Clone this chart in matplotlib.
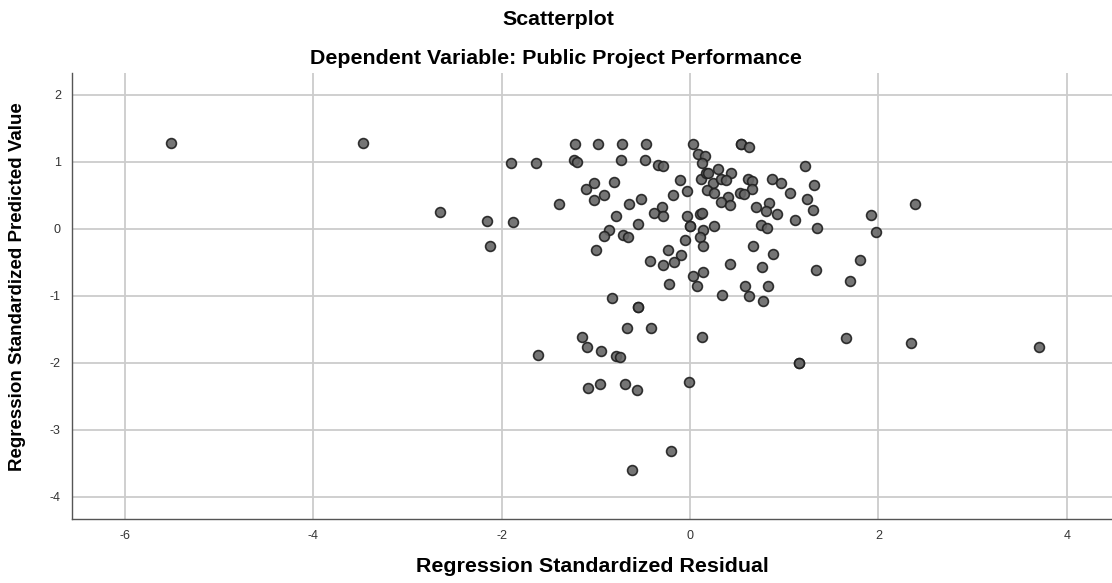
import matplotlib
matplotlib.use("Agg")
import matplotlib.pyplot as plt

# Regression Standardized Residual (x) and Predicted Value (y)
residual = [
    -5.51, -3.47, -2.65, -2.15, -2.12, -1.90, -1.88, -1.63, -1.39, -1.61,
    -1.22, -0.98, -0.72, -0.47, 0.03, -1.23, -1.20, -0.73, -0.48, -0.34,
    -0.29, 0.09, 0.16, 0.13, -0.11, -0.03, 0.12, -1.02, -1.10, -0.81,
    -0.91, -1.02, -0.65, -0.52, -0.18, -0.30, -0.38, -0.29, -0.79, -0.55,
    -0.03, 0.00, 0.00, 0.11, -0.86, -0.91, -0.71, -0.66, -0.05, -1.00,
    -0.23, 0.54, 0.54, 0.63, 1.22, 0.17, 0.19, 0.30, 0.44, 0.24,
    0.33, 0.38, 0.18, 0.26, 0.62, 0.66, 0.87, 0.97, 1.32, 0.66,
    0.53, 0.57, 1.06, 0.40, 0.33, 0.42, 1.24, 0.70, 0.84, 0.81,
    0.92, 1.31, 0.13, 1.12, 1.92, 0.25, 0.75, 0.82, 1.35, 0.14,
    0.11, 0.14, 0.67, -0.10, -0.17, -0.42, -0.29, 0.03, -0.22, 0.07,
    -0.83, -0.55, -0.55, -0.67, -0.41, -1.15, -1.09, -0.94, -0.79, -0.74,
    0.88, 0.43, 0.77, 1.81, 1.34, 1.70, 0.14, 0.58, 0.83, 0.34,
    0.63, 0.78, 0.13, 1.66, 1.16, 1.16, -0.01, -1.08, -0.95, -0.69,
    -0.56, -0.20, -0.62, 2.39, 1.98, 2.35, 3.71,
]
predicted = [
    1.28, 1.28, 0.25, 0.12, -0.26, 0.99, 0.11, 0.98, 0.37, -1.88,
    1.27, 1.27, 1.27, 1.27, 1.27, 1.03, 1.00, 1.03, 1.03, 0.96,
    0.94, 1.12, 1.09, 0.98, 0.73, 0.57, 0.74, 0.68, 0.60, 0.70,
    0.50, 0.43, 0.37, 0.44, 0.51, 0.33, 0.24, 0.20, 0.19, 0.08,
    0.19, 0.05, 0.05, 0.23, -0.01, -0.11, -0.09, -0.12, -0.16, -0.31,
    -0.31, 1.27, 1.27, 1.23, 0.94, 0.84, 0.83, 0.90, 0.83, 0.68,
    0.75, 0.73, 0.58, 0.54, 0.75, 0.72, 0.74, 0.69, 0.65, 0.59,
    0.54, 0.52, 0.53, 0.48, 0.40, 0.35, 0.44, 0.33, 0.39, 0.27,
    0.22, 0.28, 0.24, 0.13, 0.21, 0.05, 0.06, 0.02, 0.01, -0.01,
    -0.12, -0.25, -0.26, -0.39, -0.49, -0.48, -0.54, -0.70, -0.83, -0.85,
    -1.03, -1.16, -1.16, -1.48, -1.48, -1.61, -1.76, -1.83, -1.90, -1.92,
    -0.38, -0.53, -0.57, -0.46, -0.61, -0.78, -0.64, -0.85, -0.85, -0.98,
    -1.00, -1.07, -1.62, -1.63, -2.00, -2.00, -2.29, -2.38, -2.32, -2.32,
    -2.40, -3.31, -3.60, 0.37, -0.05, -1.71, -1.77,
]
x_ticks = [-6, -4, -2, 0, 2, 4]
y_ticks = [-4, -3, -2, -1, 0, 1, 2]

plt.rcParams['font.family'] = ['Liberation Sans', 'DejaVu Sans']
plt.rcParams['axes.unicode_minus'] = False

fig = plt.figure(figsize=(11.12, 5.83), dpi=100)
ax = fig.add_axes([0.0647, 0.110, 0.9353, 0.765])

ax.scatter(residual, predicted, s=50, facecolor='#666666', edgecolor='#1e1e1e',
           linewidth=1.2, alpha=0.9, zorder=3)

ax.set_xlim(-6.56, 4.48)
ax.set_ylim(-4.33, 2.33)
ax.set_xticks(x_ticks)
ax.set_yticks(y_ticks)
ax.tick_params(length=0, labelsize=9, colors='#333333', pad=8)
ax.grid(True, color='#cccccc', linewidth=1.3)
ax.set_axisbelow(True)

for side in ['top', 'right']:
    ax.spines[side].set_visible(False)
for side in ['left', 'bottom']:
    ax.spines[side].set_color('#555555')
    ax.spines[side].set_linewidth(1.0)

ax.set_xlabel('Regression Standardized Residual', fontsize=15.4, fontweight='bold')
ax.xaxis.set_label_coords(0.5, -0.085)
ax.set_ylabel('Regression Standardized Predicted Value', fontsize=13.5, fontweight='bold')
ax.yaxis.set_label_coords(-0.044, 0.52)

fig.text(0.502, 0.966, 'Scatterplot', ha='center', va='center',
         fontsize=15.4, fontweight='bold')
fig.text(0.500, 0.899, 'Dependent Variable: Public Project Performance',
         ha='center', va='center', fontsize=15.4, fontweight='bold')

fig.savefig('out.png', dpi=100)
